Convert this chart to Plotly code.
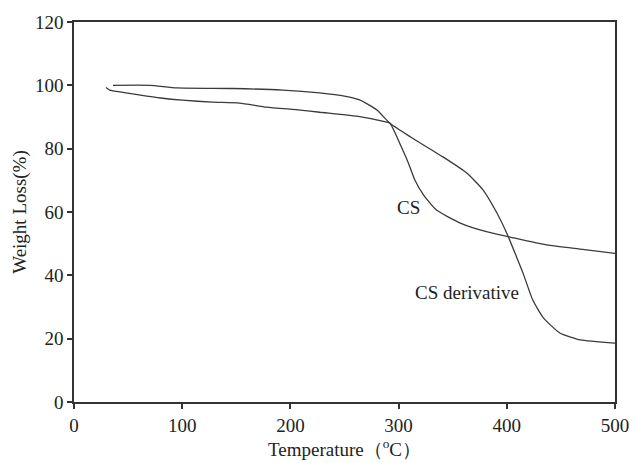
import plotly.graph_objects as go

# CS curve
cs_x = [29.6, 33, 45, 60, 80, 100, 128, 153, 178, 209, 227, 264, 286, 292, 301, 309, 315, 323, 335, 357, 382, 403, 437, 470, 500]
cs_y = [99.3, 98.5, 97.8, 97.0, 96.0, 95.3, 94.7, 94.4, 93.1, 92.2, 91.5, 90.1, 88.6, 88.0, 81.7, 75.5, 70.1, 65.4, 60.6, 56.5, 53.7, 52.1, 49.6, 48.2, 46.9]

# CS derivative curve
csd_x = [36, 70, 95, 147, 193, 227, 250, 264, 280, 292, 311, 341, 363, 378, 391, 400, 409, 415, 424, 434, 449, 468, 500]
csd_y = [100, 100, 99.2, 99.0, 98.5, 97.6, 96.6, 95.4, 92.2, 88.0, 83.7, 77.4, 72.3, 67.0, 59.6, 53.3, 45.8, 40.7, 32.2, 26.5, 21.8, 19.6, 18.6]

x_ticks = [0, 100, 200, 300, 400, 500]
y_ticks = [0, 20, 40, 60, 80, 100, 120]

labels = ["CS", "CS derivative"]
label_x = [309, 363]
label_y = [61.3, 34.7]

line_style = dict(color="#3a3a3a", width=1.3, shape="spline", smoothing=0.5)
fig = go.Figure()
fig.add_trace(go.Scatter(x=cs_x, y=cs_y, mode="lines", line=line_style, name="CS"))
fig.add_trace(go.Scatter(x=csd_x, y=csd_y, mode="lines", line=line_style, name="CS derivative"))

for t, lx, ly in zip(labels, label_x, label_y):
    fig.add_annotation(x=lx, y=ly, text=t, showarrow=False,
                       font=dict(family="Liberation Serif", size=19, color="#222"))

axis_common = dict(showline=True, linecolor="#333", linewidth=1.5, mirror=True,
                   ticks="outside", ticklen=5, tickwidth=1.5, tickcolor="#333",
                   showgrid=False, zeroline=False, automargin=False,
                   tickfont=dict(family="Liberation Serif", size=19, color="#222"))

fig.update_layout(
    width=634, height=463,
    margin=dict(l=74, r=19, t=22, b=61),
    paper_bgcolor="white", plot_bgcolor="white",
    showlegend=False,
    xaxis=dict(range=[0, 500], tickvals=x_ticks,
               title=dict(text="Temperature（<sup>o</sup>C）", standoff=4,
                          font=dict(family="Liberation Serif", size=19, color="#222")),
               **axis_common),
    yaxis=dict(range=[0, 120], tickvals=y_ticks,
               title=dict(text="Weight Loss(%)", standoff=3,
                          font=dict(family="Liberation Serif", size=19, color="#222")),
               **axis_common),
)

fig.write_html("out.html", config={"displayModeBar": False},
               post_script="document.body.style.margin='0';document.body.style.overflow='hidden';")
